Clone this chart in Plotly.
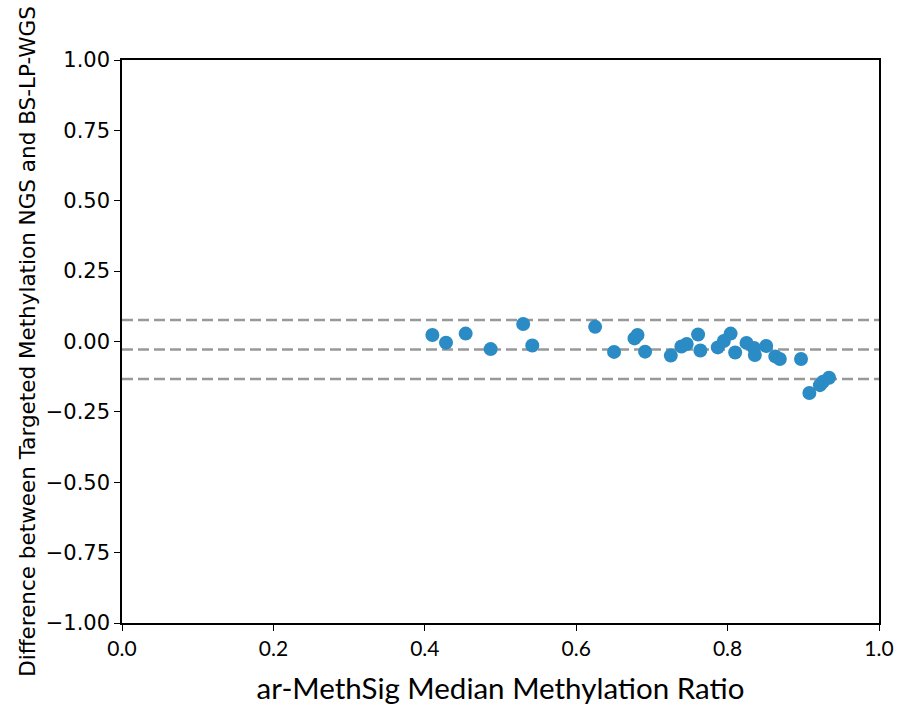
import plotly.graph_objects as go

x_vals = [0.410, 0.428, 0.454, 0.487, 0.530, 0.542, 0.625, 0.650, 0.677, 0.681,
          0.691, 0.725, 0.739, 0.746, 0.761, 0.764, 0.787, 0.795, 0.804, 0.810,
          0.825, 0.835, 0.836, 0.851, 0.863, 0.869, 0.897, 0.908, 0.922, 0.926, 0.934]
y_vals = [0.023, -0.004, 0.028, -0.027, 0.062, -0.014, 0.052, -0.037, 0.011, 0.023,
          -0.036, -0.050, -0.018, -0.009, 0.025, -0.032, -0.021, 0.002, 0.028, -0.039,
          -0.005, -0.023, -0.048, -0.016, -0.053, -0.062, -0.062, -0.183, -0.155, -0.143, -0.129]
ref_lines = [0.076, -0.028, -0.133]

x_ticks = [0.0, 0.2, 0.4, 0.6, 0.8, 1.0]
y_ticks = [1.0, 0.75, 0.5, 0.25, 0.0, -0.25, -0.5, -0.75, -1.0]
y_tick_text = ["1.00", "0.75", "0.50", "0.25", "0.00", "\u22120.25", "\u22120.50", "\u22120.75", "\u22121.00"]

fig = go.Figure()
for v in ref_lines:
    fig.add_shape(type="line", xref="paper", yref="y", x0=0, x1=1, y0=v, y1=v,
                  line=dict(color="#999999", width=2.5, dash="11px,5px"), layer="below")
fig.add_trace(go.Scatter(x=x_vals, y=y_vals, mode="markers",
                         marker=dict(color="#2b8bc4", size=14, line=dict(width=0)),
                         showlegend=False))

fig.update_layout(
    width=900, height=709,
    paper_bgcolor="white", plot_bgcolor="white",
    margin=dict(l=122, r=21, t=60, b=86),
    xaxis=dict(range=[0, 1], tickvals=x_ticks, ticktext=[f"{t:.1f}" for t in x_ticks],
               automargin=False,
               showgrid=False, zeroline=False, showline=True, linecolor="black", linewidth=1.5,
               mirror=True, ticks="outside", ticklen=6, tickwidth=1.2, tickcolor="black",
               tickfont=dict(family="Liberation Sans Narrow, Lato, sans-serif", size=21, color="black"),
               title=dict(text="ar-MethSig Median Methylation Ratio",
                          font=dict(family="Liberation Sans Narrow, Lato, sans-serif", size=29.5, color="black"),
                          standoff=19)),
    yaxis=dict(range=[-1, 1], tickvals=y_ticks, ticktext=y_tick_text,
               automargin=False,
               showgrid=False, zeroline=False, showline=True, linecolor="black", linewidth=1.5,
               mirror=True, ticks="outside", ticklen=6, tickwidth=1.2, tickcolor="black",
               tickfont=dict(family="DejaVu Sans", size=21, color="black"),
               title=dict(text="Difference between Targeted Methylation NGS and BS-LP-WGS",
                          font=dict(family="DejaVu Sans", size=21.5, color="black"),
                          standoff=4)),
)

fig.write_html("out.html")
